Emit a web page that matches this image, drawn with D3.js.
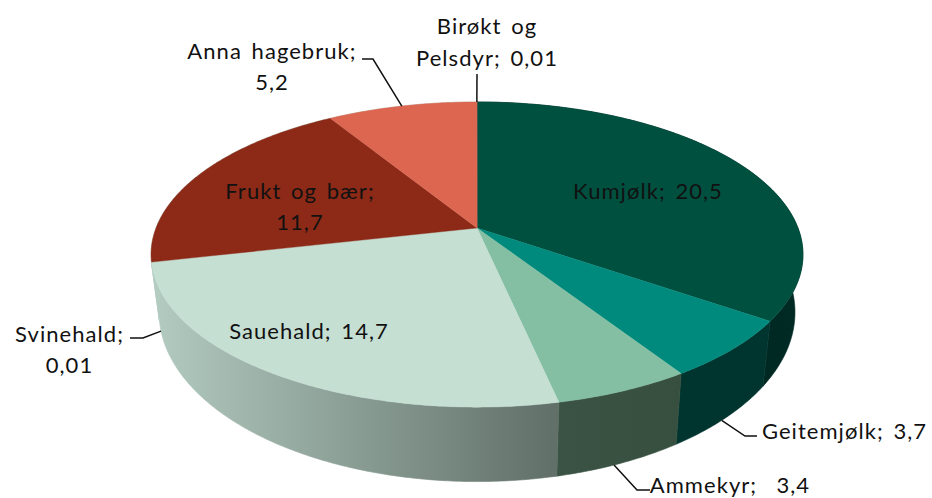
<!DOCTYPE html>
<html><head><meta charset="utf-8">
<style>html,body{margin:0;padding:0;background:#fff}svg{display:block}
text{font-family:Lato,"Open Sans",sans-serif;font-size:22px;letter-spacing:1.05px;word-spacing:3px;fill:#111;text-anchor:middle}</style>
<script src="https://cdn.jsdelivr.net/npm/d3@7"></script></head><body>
<svg id="c" width="932" height="498"></svg>
<script>
const categories=["Kumjølk","Geitemjølk","Ammekyr","Sauehald","Svinehald","Frukt og bær","Anna hagebruk","Birøkt og Pelsdyr"];
const values=[20.5,3.7,3.4,14.7,0.01,11.7,5.2,0.01];
const valueLabels=["20,5","3,7","3,4","14,7","0,01","11,7","5,2","0,01"];
const topColors=["#00503f","#008a7d","#84bfa3","#c5dfd3","#c5dfd3","#8c2a17","#dc6650","#dc6650"];
const sideStops=[["#002a24","#001d18"],["#00352f","#00352f"],["#364f3f","#3a5344"],["#606f67","#b3cbc1"],["#b3cbc1","#b3cbc1"],["#b3cbc1","#b3cbc1"],["#b3cbc1","#b3cbc1"],["#b3cbc1","#b3cbc1"]];
// label layout: lines, and position of each line's baseline
const labelLayout=[
 {lines:["Kumjølk; 20,5"],x:648,y:[199]},
 {lines:["Geitemjølk; 3,7"],x:844.5,y:[439]},
 {lines:["Ammekyr;  3,4"],x:730,y:[493]},
 {lines:["Sauehald; 14,7"],x:309,y:[339]},
 {lines:["Svinehald;","0,01"],x:69.5,y:[342,373]},
 {lines:["Frukt og bær;","11,7"],x:300,y:[199,230]},
 {lines:["Anna hagebruk;","5,2"],x:272,y:[59,90]},
 {lines:["Birøkt og","Pelsdyr; 0,01"],x:487,y:[34,66]}
];
const leaders=[null,
 {side:true,frac:0.55,via:[[745,436],[757,436]]},
 {side:true,frac:0.55,via:[[637,490],[650,490]]},
 null,
 {side:true,da:-0.06,via:[[143,338],[130,338]]},
 null,
 {side:false,via:[[373,59],[362,59]]},
 {side:false,via:[[477,74]]}
];
const svg=d3.select("#c");
const cx=477,cy=228,rx=321,persp=-0.174,ay=108.3;
const xs=d3.scaleLinear().domain([0,1]).range([cx,cx+rx]);
const ys=d3.scaleLinear().domain([0,1]).range([cy,cy+ay]);
const wallX=d3.scaleLinear().domain([cx,cx+326]).range([cx,cx+318]);
const wallY=d3.scaleLinear().domain([102,407]).range([143,481.4]);
function project(a){const u=Math.sin(a),v=-Math.cos(a),w=1+persp*v;return [xs(u/w),ys(v)/w];}
function lower(p){return [wallX(p[0]),wallY(p[1])];}
const pie=d3.pie().sort(null).value(d=>d)(values);
const line=d3.line();
function arcPts(s,e){const n=Math.max(2,Math.ceil((e-s)/0.01));return d3.range(n+1).map(i=>project(s+(e-s)*i/n));}
const defs=svg.append("defs");
pie.forEach((d,i)=>{
 const pts=arcPts(d.startAngle,d.endAngle);
 const x0=d3.min(pts,p=>p[0]),x1=d3.max(pts,p=>p[0]);
 const g=defs.append("linearGradient").attr("id","w"+i).attr("gradientUnits","userSpaceOnUse")
  .attr("x1",x1).attr("x2",x0).attr("y1",0).attr("y2",0);
 g.append("stop").attr("offset",0).attr("stop-color",sideStops[i][0]);
 g.append("stop").attr("offset",1).attr("stop-color",sideStops[i][1]);
});
const walls=svg.append("g");
pie.forEach((d,i)=>{
 const pts=arcPts(d.startAngle,d.endAngle);
 const low=pts.map(lower).reverse();
 walls.append("path").attr("d",line(pts.concat(low))+"Z").attr("fill","url(#w"+i+")").attr("stroke","url(#w"+i+")").attr("stroke-width",0.6);
});
const tops=svg.append("g");
pie.forEach((d,i)=>{
 const pts=arcPts(d.startAngle,d.endAngle);
 tops.append("path").attr("d",line([[cx,cy]].concat(pts))+"Z").attr("fill",topColors[i]).attr("stroke",topColors[i]).attr("stroke-width",0.4);
});
leaders.forEach((l,i)=>{if(!l)return;
 const d=pie[i];const f=l.frac===undefined?0.5:l.frac;
 let a=d.startAngle+(d.endAngle-d.startAngle)*f+(l.da||0);
 let p=project(a); if(l.side){p=lower(p);}
 svg.append("path").attr("d",line([p].concat(l.via))).attr("fill","none").attr("stroke","#111").attr("stroke-width",1.5);
});
labelLayout.forEach(l=>{
 l.lines.forEach((t,j)=>{
  svg.append("text").attr("x",l.x).attr("y",l.y[j]).style("white-space","pre").text(t);
 });
});
</script></body></html>
